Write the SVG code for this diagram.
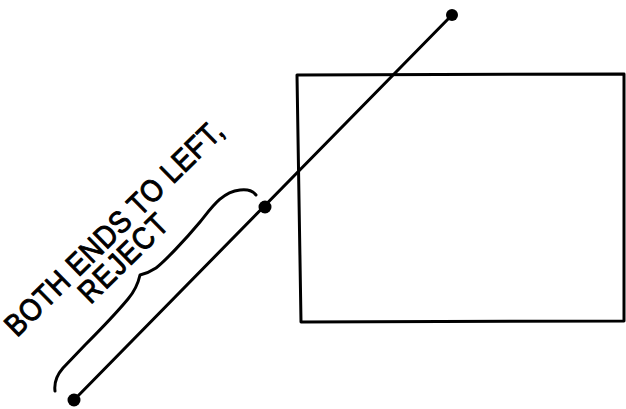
<svg xmlns="http://www.w3.org/2000/svg" width="626" height="409" viewBox="0 0 626 409">
<style>
.ln{fill:none;stroke:#000;stroke-width:3;stroke-linecap:round;stroke-linejoin:round}
.dot{fill:#000}
.lbl{font-family:"Liberation Sans",Arial,sans-serif;font-size:31px;fill:#000;stroke:#000;stroke-width:1;stroke-linejoin:round}
</style>
<rect width="626" height="409" fill="#fff"/>
<g id="window">
<polygon class="ln" points="297,75 624,74 624,321 301,322"/>
</g>
<g id="connectors">
<line class="ln" x1="74" y1="400" x2="452" y2="15"/>
<path class="ln" d="M55,391 C54,383 56,376 63,368 L85,345 C100,330 118,311 128,299 C134,292 138,284 140,275 C144,274 150,272 156,268 C165,261 185,240 200,222 C212,207 222,192 240,190 C248,189 253,191 256,195"/>
</g>
<g id="endpoints">
<circle class="dot" cx="74" cy="400" r="6.5"/>
<circle class="dot" cx="265" cy="207" r="6.5"/>
<circle class="dot" cx="452" cy="15" r="6"/>
</g>
<g id="label" transform="translate(17,338) rotate(-44.5) scale(0.88,1)">
<text class="lbl" x="0" y="0" textLength="332" lengthAdjust="spacing">BOTH ENDS TO LEFT,</text>
<text class="lbl" x="86" y="28" textLength="127" lengthAdjust="spacing">REJECT</text>
</g>
</svg>
